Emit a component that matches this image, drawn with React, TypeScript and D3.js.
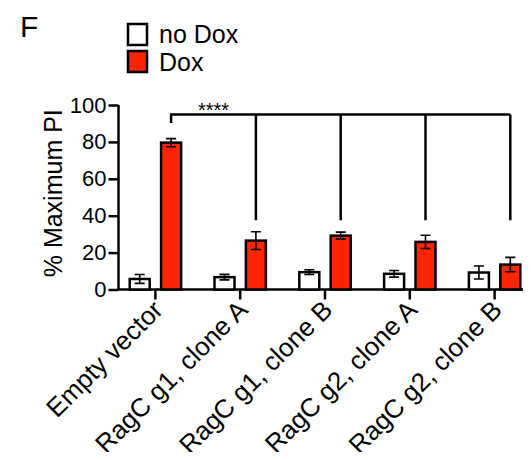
import React, { useEffect, useRef } from "react";
import * as d3 from "d3";

const categories = [
  "Empty vector",
  "RagC g1, clone A",
  "RagC g1, clone B",
  "RagC g2, clone A",
  "RagC g2, clone B",
];
const noDox = [5.7, 6.7, 9.4, 8.5, 9.2];
const noDoxErr = [2.4, 1.5, 1.3, 1.8, 3.5];
const dox = [79.6, 26.5, 29.2, 25.8, 13.5];
const doxErr = [2.2, 4.8, 1.9, 3.6, 3.9];
const yTicks = [0, 20, 40, 60, 80, 100];
const seriesNames = ["no Dox", "Dox"];
// significance bracket, in data units
const bracketTop = 94.8;
const bracketStub = 90.3;
const bracketDrop = 37.6;
const sigLabel = "****";

const RED = "#ff2500";
const FONT = "'Liberation Sans', Arial, Helvetica, sans-serif";

const App = () => {
  const svgRef = useRef<SVGSVGElement>(null);

  useEffect(() => {
    const width = 531;
    const height = 460;
    const svg = d3.select(svgRef.current).attr("width", width).attr("height", height);
    svg.selectAll("*").remove();

    const x = d3.scaleBand().domain(categories).range([113, 537]);
    const y = d3.scaleLinear().domain([0, 100]).range([289.5, 105]);
    const off = 15.7;
    const bw = 20;
    const cx = (c: string) => (x(c) as number) + x.bandwidth() / 2;

    // y axis
    const yAxis = d3.axisLeft(y).tickValues(yTicks).tickSize(10).tickPadding(2).tickFormat(d3.format("d"));
    const gy = svg.append("g").attr("transform", "translate(118.5,0)").call(yAxis);
    gy.select(".domain").attr("stroke-width", 2.5).attr("d", `M0,${y(100)}V${y(0)}`);
    gy.selectAll(".tick line").attr("stroke-width", 2.5);
    gy.selectAll(".tick text").attr("font-size", 22).attr("font-family", FONT).attr("fill", "#000");

    // x axis
    const gx = svg.append("g").attr("transform", `translate(0,${y(0)})`);
    gx.append("line").attr("x1", 117.3).attr("x2", 531).attr("stroke", "#000").attr("stroke-width", 2.5);
    gx.selectAll(".xt")
      .data(categories)
      .join("line")
      .attr("x1", (d) => cx(d))
      .attr("x2", (d) => cx(d))
      .attr("y1", 0)
      .attr("y2", 10)
      .attr("stroke", "#000")
      .attr("stroke-width", 2.5);
    gx.selectAll(".xl")
      .data(categories)
      .join("text")
      .attr("transform", (d) => `translate(${cx(d) + 9},${22}) rotate(-45)`)
      .attr("text-anchor", "end")
      .attr("font-size", 26)
      .attr("font-family", FONT)
      .text((d) => d);

    // bars
    const series = [
      { vals: noDox, errs: noDoxErr, fill: "#fff", dx: -off },
      { vals: dox, errs: doxErr, fill: RED, dx: off },
    ];
    series.forEach((s) => {
      const g = svg.append("g");
      g.selectAll("rect")
        .data(categories)
        .join("rect")
        .attr("x", (d) => cx(d) + s.dx - bw / 2)
        .attr("y", (d, i) => y(s.vals[i]))
        .attr("width", bw)
        .attr("height", (d, i) => y(0) - y(s.vals[i]))
        .attr("fill", s.fill)
        .attr("stroke", "#000")
        .attr("stroke-width", 2.5);
      categories.forEach((c, i) => {
        const xc = cx(c) + s.dx;
        const hi = y(s.vals[i] + s.errs[i]);
        const lo = y(s.vals[i] - s.errs[i]);
        g.append("path")
          .attr("d", `M${xc},${lo}V${hi}M${xc - 5},${hi}H${xc + 5}M${xc - 5},${lo}H${xc + 5}`)
          .attr("stroke", "#000")
          .attr("stroke-width", 1.6)
          .attr("fill", "none");
      });
    });

    // significance bracket
    const doxX = categories.map((c) => cx(c) + off);
    let p = `M${doxX[0]},${y(bracketStub)}V${y(bracketTop)}H${doxX[doxX.length - 1]}`;
    doxX.slice(1).forEach((xx) => {
      p += `M${xx},${y(bracketTop)}V${y(bracketDrop)}`;
    });
    svg.append("path").attr("d", p).attr("stroke", "#000").attr("stroke-width", 2.5).attr("fill", "none");
    svg.append("text")
      .attr("x", (doxX[0] + doxX[1]) / 2)
      .attr("y", y(bracketTop) + 2.5)
      .attr("text-anchor", "middle")
      .attr("font-size", 20)
      .attr("font-family", FONT)
      .text(sigLabel);

    // y label
    svg.append("text")
      .attr("transform", `translate(62,${(y(0) + y(100)) / 2 - 4}) rotate(-90)`)
      .attr("text-anchor", "middle")
      .attr("font-size", 25)
      .attr("font-family", FONT)
      .text("% Maximum PI");

    // legend
    const lg = svg.append("g");
    seriesNames.forEach((n, i) => {
      lg.append("rect")
        .attr("x", 128)
        .attr("y", 24 + i * 27)
        .attr("width", 19)
        .attr("height", 21)
        .attr("fill", i === 0 ? "#fff" : RED)
        .attr("stroke", "#000")
        .attr("stroke-width", 2.5);
      lg.append("text")
        .attr("x", 159)
        .attr("y", 43 + i * 28)
        .attr("font-size", 25)
        .attr("font-family", FONT)
        .text(n);
    });

    svg.append("text")
      .attr("x", 20)
      .attr("y", 37)
      .attr("font-size", 30)
      .attr("font-family", FONT)
      .text("F");
  }, []);

  return (
    <div style={{ margin: -8 }}>
      <svg ref={svgRef} style={{ display: "block", background: "#fff" }} />
    </div>
  );
};

export default App;
